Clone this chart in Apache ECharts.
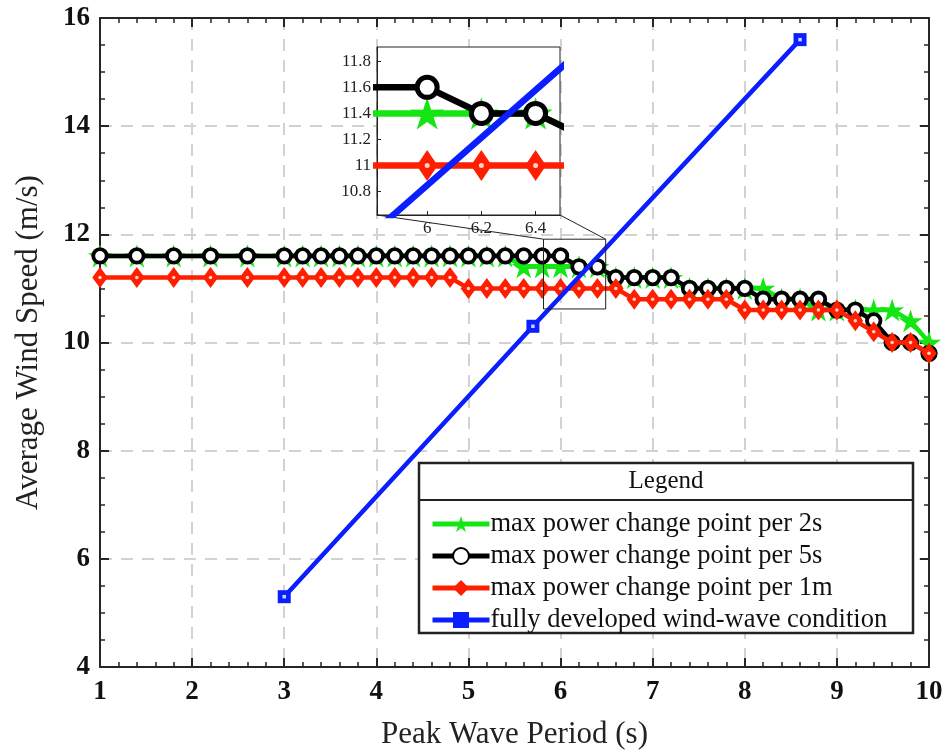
<!DOCTYPE html>
<html>
<head>
<meta charset="utf-8">
<script src="https://cdn.jsdelivr.net/npm/echarts@6/dist/echarts.min.js"></script>
<style>
html,body{margin:0;padding:0;background:#fff;}
#c{width:947px;height:755px;}
</style>
</head>
<body>
<div id="c"></div>
<script>
// ---- data ----
const periods = [1, 1.4, 1.8, 2.2, 2.6, 3.0, 3.2, 3.4, 3.6, 3.8, 4.0, 4.2, 4.4, 4.6, 4.8, 5.0, 5.2, 5.4, 5.6, 5.8, 6.0,
  6.2, 6.4, 6.6, 6.8, 7.0, 7.2, 7.4, 7.6, 7.8, 8.0, 8.2, 8.4, 8.6, 8.8, 9.0, 9.2, 9.4, 9.6, 9.8, 10.0];
const green2s = [11.6, 11.6, 11.6, 11.6, 11.6, 11.6, 11.6, 11.6, 11.6, 11.6, 11.6, 11.6, 11.6, 11.6, 11.6, 11.6, 11.6, 11.6,
  11.4, 11.4, 11.4, 11.4, 11.4, 11.2, 11.2, 11.2, 11.2, 11.0, 11.0, 11.0, 11.0, 11.0, 10.8, 10.8, 10.6, 10.6, 10.6, 10.6, 10.6, 10.4, 10.0];
const black5s = [11.6, 11.6, 11.6, 11.6, 11.6, 11.6, 11.6, 11.6, 11.6, 11.6, 11.6, 11.6, 11.6, 11.6, 11.6, 11.6, 11.6, 11.6, 11.6, 11.6, 11.6,
  11.4, 11.4, 11.2, 11.2, 11.2, 11.2, 11.0, 11.0, 11.0, 11.0, 10.8, 10.8, 10.8, 10.8, 10.6, 10.6, 10.4, 10.0, 10.0, 9.8];
const red1m = [11.2, 11.2, 11.2, 11.2, 11.2, 11.2, 11.2, 11.2, 11.2, 11.2, 11.2, 11.2, 11.2, 11.2, 11.2,
  11.0, 11.0, 11.0, 11.0, 11.0, 11.0, 11.0, 11.0, 11.0, 10.8, 10.8, 10.8, 10.8, 10.8, 10.8,
  10.6, 10.6, 10.6, 10.6, 10.6, 10.6, 10.4, 10.2, 10.0, 10.0, 9.8];
const blueX = [3.0, 5.7, 8.6];
const blueY = [5.3, 10.3, 15.6];
const seriesNames = ['max power change point per 2s', 'max power change point per 5s',
  'max power change point per 1m', 'fully developed wind-wave condition'];
const insetX = [5.815, 6.49];
const insetY = [10.62, 11.91];
const insetXTicks = [6, 6.2, 6.4];
const insetYTicks = [10.8, 11, 11.2, 11.4, 11.6, 11.8];
const xAxisTitle = 'Peak Wave Period (s)';
const yAxisTitle = 'Average Wind Speed (m/s)';
const legendTitle = 'Legend';

// ---- helpers ----
const pairs = (xs, ys) => xs.map((x, i) => [x, ys[i]]);
function starPath() {
  const pts = [];
  for (let i = 0; i < 10; i++) {
    const a = -Math.PI / 2 + i * Math.PI / 5;
    const r = i % 2 ? 0.38 : 1;
    pts.push((r * Math.cos(a)).toFixed(3) + ' ' + (r * Math.sin(a)).toFixed(3));
  }
  return 'path://M' + pts.join(' L') + ' Z';
}
const STAR = starPath();
const G = '#14e614', K = '#000000', R = '#ff1f00', B = '#0a1eff';
const FONT = 'Liberation Serif';
const AX = '#262626';

function buildSeries(xi, yi, big) {
  const lw = big ? 6.5 : 4.5;
  const zb = big ? 10 : 2;
  const base = {type: 'line', xAxisIndex: xi, yAxisIndex: yi, showAllSymbol: true, animation: false, clip: true};
  return [
    Object.assign({}, base, {name: seriesNames[0], data: pairs(periods, green2s), symbol: STAR, symbolKeepAspect: true,
      symbolSize: big ? 34 : 24, itemStyle: {color: G}, lineStyle: {color: G, width: lw}, z: zb}),
    Object.assign({}, base, {name: seriesNames[1], data: pairs(periods, black5s), symbol: 'circle',
      symbolSize: big ? 20 : 13.5, itemStyle: {color: '#fff', borderColor: K, borderWidth: big ? 5 : 3.8}, lineStyle: {color: K, width: lw}, z: zb + 1}),
    Object.assign({}, base, {name: seriesNames[2], data: pairs(periods, red1m), symbol: 'diamond',
      symbolSize: big ? [21, 31] : [15.5, 21], itemStyle: {color: R}, lineStyle: {color: R, width: lw}, z: zb + 2}),
    Object.assign({}, base, {type: 'scatter', name: 'dotR', data: pairs(periods, red1m), symbol: 'circle', symbolSize: big ? 5 : 3.5,
      itemStyle: {color: '#fff'}, silent: true, z: zb + 3}),
    Object.assign({}, base, {name: seriesNames[3], data: pairs(blueX, blueY), symbol: 'rect',
      symbolSize: big ? 18 : 13, itemStyle: {color: B}, lineStyle: {color: B, width: lw}, z: zb + 4}),
    Object.assign({}, base, {type: 'scatter', name: 'dotB', data: pairs(blueX, blueY), symbol: 'rect', symbolSize: big ? 5 : 3.5,
      itemStyle: {color: '#fff'}, silent: true, z: zb + 5})
  ];
}

const mainTick = {show: true, inside: true, length: 9, lineStyle: {color: AX, width: 2}};
const mainMinor = (n) => ({show: true, splitNumber: n, length: 5, lineStyle: {color: AX, width: 1.5}});
const gridLine = {show: true, lineStyle: {color: '#d2d2d2', width: 2, type: [12, 9]}};
const lbl = {fontFamily: FONT, fontWeight: 'bold', fontSize: 27, color: '#111'};

const chart = echarts.init(document.getElementById('c'), null, {renderer: 'canvas'});
const option = {
  animation: false,
  backgroundColor: '#fff',
  grid: [
    {left: 100, right: 18, top: 18, bottom: 85, containLabel: false},
    {left: 377, top: 47, width: 183, height: 168, show: true, backgroundColor: '#fff', borderColor: '#222', borderWidth: 1, z: 3}
  ],
  xAxis: [
    {type: 'value', gridIndex: 0, min: 1, max: 10, interval: 1, position: 'bottom',
      axisLine: {show: true, onZero: false, lineStyle: {color: AX, width: 2}},
      axisTick: mainTick, minorTick: mainMinor(5), splitLine: gridLine,
      axisLabel: Object.assign({margin: 12}, lbl),
      name: xAxisTitle, nameLocation: 'middle', nameGap: 52,
      nameTextStyle: {fontFamily: FONT, fontSize: 31, color: '#222'}},
    {type: 'value', gridIndex: 1, min: insetX[0], max: insetX[1], z: 4,
      axisLine: {show: true, onZero: false, lineStyle: {color: '#222', width: 1}},
      axisTick: {show: true, inside: true, length: 4, customValues: insetXTicks, lineStyle: {color: '#222'}},
      axisLabel: {show: true, customValues: insetXTicks, formatter: v => String(+(+v).toFixed(1)),
        fontFamily: FONT, fontSize: 17, color: '#222', margin: 5},
      splitLine: {show: false}},
    {type: 'value', gridIndex: 0, min: 1, max: 10, interval: 1, position: 'top',
      axisLine: {show: true, onZero: false, lineStyle: {color: AX, width: 2}},
      axisTick: mainTick, minorTick: mainMinor(5), splitLine: {show: false}, axisLabel: {show: false}}
  ],
  yAxis: [
    {type: 'value', gridIndex: 0, min: 4, max: 16, interval: 2, position: 'left',
      axisLine: {show: true, onZero: false, lineStyle: {color: AX, width: 2}},
      axisTick: mainTick, minorTick: mainMinor(4), splitLine: gridLine,
      axisLabel: Object.assign({margin: 10}, lbl),
      name: yAxisTitle, nameLocation: 'middle', nameGap: 56,
      nameTextStyle: {fontFamily: FONT, fontSize: 31, color: '#222'}},
    {type: 'value', gridIndex: 1, min: insetY[0], max: insetY[1], z: 4,
      axisLine: {show: true, onZero: false, lineStyle: {color: '#222', width: 1}},
      axisTick: {show: true, inside: true, length: 4, customValues: insetYTicks, lineStyle: {color: '#222'}},
      axisLabel: {show: true, customValues: insetYTicks, formatter: v => String(+(+v).toFixed(1)),
        fontFamily: FONT, fontSize: 17, color: '#222', margin: 6},
      splitLine: {show: false}},
    {type: 'value', gridIndex: 0, min: 4, max: 16, interval: 2, position: 'right',
      axisLine: {show: true, onZero: false, lineStyle: {color: AX, width: 2}},
      axisTick: mainTick, minorTick: mainMinor(4), splitLine: {show: false}, axisLabel: {show: false}}
  ],
  legend: {
    data: seriesNames, orient: 'vertical', left: 425, top: 503, z: 30,
    itemWidth: 57, itemHeight: 20, itemGap: 0, selectedMode: false,
    lineStyle: {width: 5},
    textStyle: {fontFamily: FONT, fontSize: 26.5, color: '#111', lineHeight: 32, padding: [0, 0, 0, -4]}
  },
  series: buildSeries(0, 0, false).concat(buildSeries(1, 1, true))
};
chart.setOption(option);

// annotation: zoom box on main axes + connectors to inset
const tl = chart.convertToPixel({xAxisIndex: 0, yAxisIndex: 0}, [insetX[0], insetY[1]]);
const br = chart.convertToPixel({xAxisIndex: 0, yAxisIndex: 0}, [insetX[1], insetY[0]]);
const ibl = chart.convertToPixel({xAxisIndex: 1, yAxisIndex: 1}, [insetX[0], insetY[0]]);
const ibr = chart.convertToPixel({xAxisIndex: 1, yAxisIndex: 1}, [insetX[1], insetY[0]]);
const lgTop = 463, lgLeft = 419, lgRight = 913, lgBottom = 633, lgSep = 500;
chart.setOption({
  graphic: {elements: [
    {type: 'rect', z: 12, shape: {x: tl[0], y: tl[1], width: br[0] - tl[0], height: br[1] - tl[1]},
      style: {fill: 'none', stroke: '#222', lineWidth: 1}},
    {type: 'line', z: 12, shape: {x1: ibl[0], y1: ibl[1], x2: tl[0], y2: tl[1]}, style: {stroke: '#222', lineWidth: 1}},
    {type: 'line', z: 12, shape: {x1: ibr[0], y1: ibr[1], x2: br[0], y2: tl[1]}, style: {stroke: '#222', lineWidth: 1}},
    {type: 'rect', z: 20, shape: {x: lgLeft, y: lgTop, width: lgRight - lgLeft, height: lgBottom - lgTop},
      style: {fill: '#fff', stroke: '#222', lineWidth: 2.5}},
    {type: 'line', z: 21, shape: {x1: lgLeft, y1: lgSep, x2: lgRight, y2: lgSep}, style: {stroke: '#222', lineWidth: 2}},
    {type: 'text', z: 21, x: (lgLeft + lgRight) / 2, y: (lgTop + lgSep) / 2,
      style: {text: legendTitle, fontFamily: FONT, fontSize: 25, fill: '#111', align: 'center', verticalAlign: 'middle'}}
  ]}
});
</script>
</body>
</html>
